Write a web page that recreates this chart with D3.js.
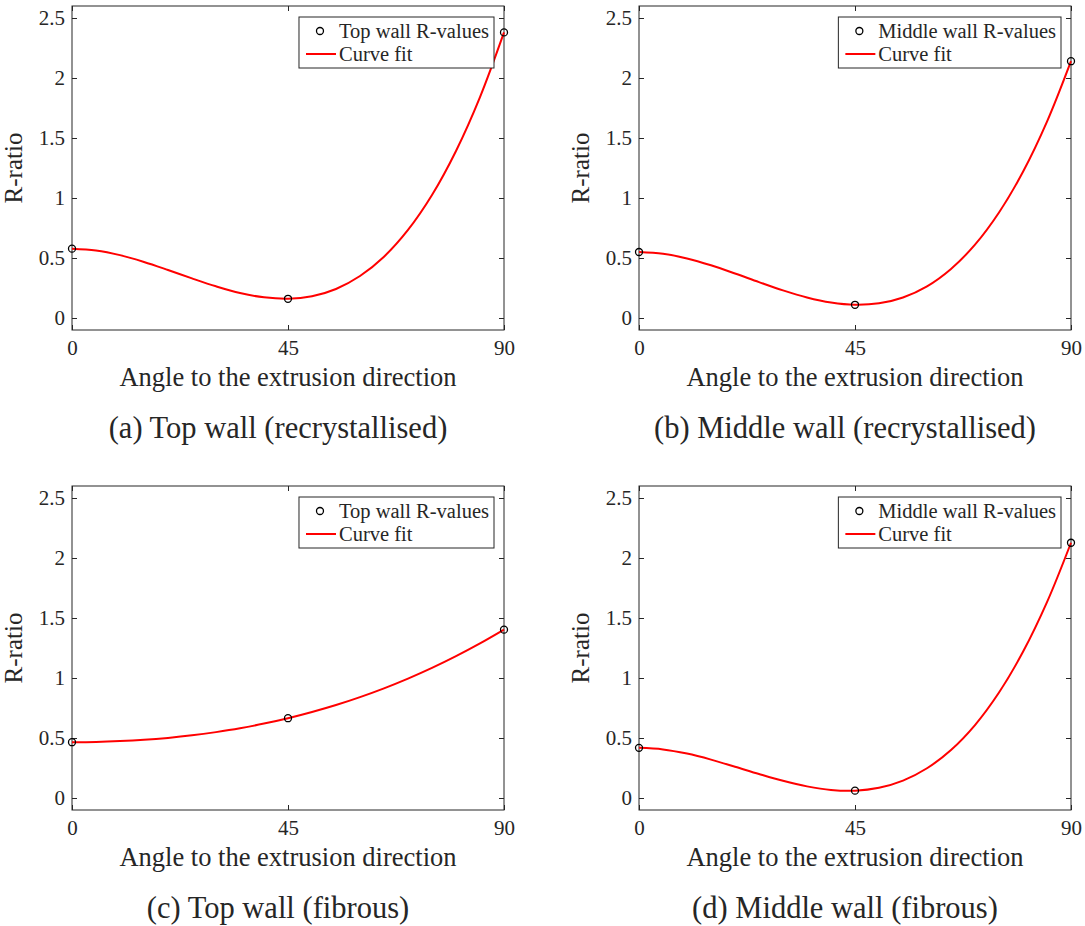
<!DOCTYPE html>
<html lang="en">
<head>
    <meta charset="UTF-8">
    <title>R-ratio vs angle to extrusion direction</title>
    <style>
        body {
            margin: 0;
            padding: 0;
            background-color: #fff;
        }

        svg text {
            font-family: 'Liberation Serif', 'DejaVu Serif', serif;
            fill: #262626;
        }
    </style>
    <script src="https://d3js.org/d3.v7.min.js"></script>
</head>
<body>
    <svg id="chart" width="1085" height="926"></svg>

    <script>
        // axis ticks
        var angleTicks = [0, 45, 90];
        var rTicks = [0, 0.5, 1, 1.5, 2, 2.5];

        // measured R-values at 0, 45 and 90 degrees
        var measuredAngles = [0, 45, 90];
        var topRecrystR = [0.578, 0.16, 2.38];
        var midRecrystR = [0.55, 0.11, 2.14];
        var topFibrousR = [0.465, 0.665, 1.403];
        var midFibrousR = [0.418, 0.061, 2.127];

        // curve fit, every 5 degrees
        var fitAngles = [0, 5, 10, 15, 20, 25, 30, 35, 40, 45, 50, 55, 60, 65, 70, 75, 80, 85, 90];
        var topRecrystFit = [0.578, 0.563, 0.524, 0.467, 0.400, 0.330, 0.264, 0.208, 0.172, 0.16, 0.181, 0.242, 0.350, 0.511, 0.734, 1.025, 1.392, 1.841, 2.38];
        var midRecrystFit = [0.55, 0.535, 0.496, 0.439, 0.371, 0.299, 0.230, 0.171, 0.129, 0.11, 0.122, 0.171, 0.264, 0.409, 0.611, 0.879, 1.218, 1.636, 2.14];
        var topFibrousFit = [0.465, 0.467, 0.474, 0.485, 0.501, 0.522, 0.549, 0.581, 0.620, 0.665, 0.717, 0.775, 0.841, 0.914, 0.995, 1.084, 1.182, 1.288, 1.403];
        var midFibrousFit = [0.418, 0.405, 0.370, 0.320, 0.261, 0.200, 0.143, 0.097, 0.067, 0.061, 0.085, 0.145, 0.248, 0.400, 0.608, 0.879, 1.218, 1.632, 2.127];

        var panels = [
            { left: 72,  top: 6,   points: topRecrystR, fit: topRecrystFit, legend: 'Top wall R-values',    caption: '(a) Top wall (recrystallised)' },
            { left: 639, top: 6,   points: midRecrystR, fit: midRecrystFit, legend: 'Middle wall R-values', caption: '(b) Middle wall (recrystallised)' },
            { left: 72,  top: 486, points: topFibrousR, fit: topFibrousFit, legend: 'Top wall R-values',    caption: '(c) Top wall (fibrous)' },
            { left: 639, top: 486, points: midFibrousR, fit: midFibrousFit, legend: 'Middle wall R-values', caption: '(d) Middle wall (fibrous)' }
        ];

        var W = 432, H = 324;
        var ink = '#262626';
        var svg = d3.select('#chart');

        panels.forEach(function (p) {
            var x = d3.scaleLinear().domain([0, 90]).range([0, W]);
            var y = d3.scaleLinear().domain([-0.1, 2.6]).range([H, 0]);

            var g = svg.append('g').attr('transform', 'translate(' + p.left + ',' + p.top + ')');

            // ticks point inward, MATLAB style
            var bottom = g.append('g').attr('transform', 'translate(0,' + H + ')')
                .call(d3.axisBottom(x).tickValues(angleTicks).tickSizeInner(-5).tickSizeOuter(0).tickPadding(10));
            var top = g.append('g')
                .call(d3.axisTop(x).tickValues(angleTicks).tickSizeInner(-5).tickSizeOuter(0).tickFormat(''));
            var left = g.append('g')
                .call(d3.axisLeft(y).tickValues(rTicks).tickSizeInner(-5).tickSizeOuter(0).tickPadding(7)
                    .tickFormat(function (d) { return d; }));
            var right = g.append('g').attr('transform', 'translate(' + W + ',0)')
                .call(d3.axisRight(y).tickValues(rTicks).tickSizeInner(-5).tickSizeOuter(0).tickFormat(''));

            [bottom, top, left, right].forEach(function (a) {
                a.select('.domain').remove();
                a.selectAll('line').attr('stroke', ink);
                a.selectAll('text').style('font-size', '21px').attr('fill', ink);
            });

            g.append('rect')
                .attr('width', W).attr('height', H)
                .attr('fill', 'none').attr('stroke', ink).attr('stroke-width', 1);

            var line = d3.line()
                .x(function (d, i) { return x(fitAngles[i]); })
                .y(function (d) { return y(d); })
                .curve(d3.curveCatmullRom.alpha(0.5));

            g.append('path')
                .datum(p.fit)
                .attr('d', line)
                .attr('fill', 'none')
                .attr('stroke', '#ff0000')
                .attr('stroke-width', 2);

            g.selectAll('circle.pt')
                .data(p.points)
                .enter()
                .append('circle')
                .attr('class', 'pt')
                .attr('cx', function (d, i) { return x(measuredAngles[i]); })
                .attr('cy', function (d) { return y(d); })
                .attr('r', 3.5)
                .attr('fill', 'none')
                .attr('stroke', '#000')
                .attr('stroke-width', 1.3);

            // axis labels
            g.append('text')
                .attr('x', W / 2).attr('y', H + 56)
                .attr('text-anchor', 'middle')
                .style('font-size', '26.5px')
                .text('Angle to the extrusion direction');

            g.append('text')
                .attr('transform', 'translate(' + (-50) + ',' + (H / 2) + ') rotate(-90)')
                .attr('text-anchor', 'middle')
                .style('font-size', '25px')
                .text('R-ratio');

            // caption under each panel
            g.append('text')
                .attr('x', W / 2 - 10).attr('y', H + 108)
                .attr('text-anchor', 'middle')
                .style('font-size', '30.5px')
                .text(p.caption);

            // legend
            var leg = g.append('g');
            var box = leg.append('rect')
                .attr('fill', '#fff').attr('stroke', ink).attr('stroke-width', 1);
            var t1 = leg.append('text').attr('x', 40).attr('y', 14).attr('dy', '0.35em')
                .style('font-size', '20.5px').text(p.legend);
            leg.append('text').attr('x', 40).attr('y', 37).attr('dy', '0.35em')
                .style('font-size', '20.5px').text('Curve fit');
            leg.append('circle').attr('cx', 21).attr('cy', 14).attr('r', 3.5)
                .attr('fill', 'none').attr('stroke', '#000').attr('stroke-width', 1.3);
            leg.append('line').attr('x1', 7).attr('x2', 37).attr('y1', 37).attr('y2', 37)
                .attr('stroke', '#ff0000').attr('stroke-width', 2);

            var bw = 40 + t1.node().getComputedTextLength() + 5;
            box.attr('width', bw).attr('height', 51);
            box.lower();
            leg.attr('transform', 'translate(' + (W - 10 - bw) + ',11)');
        });
    </script>
</body>
</html>
